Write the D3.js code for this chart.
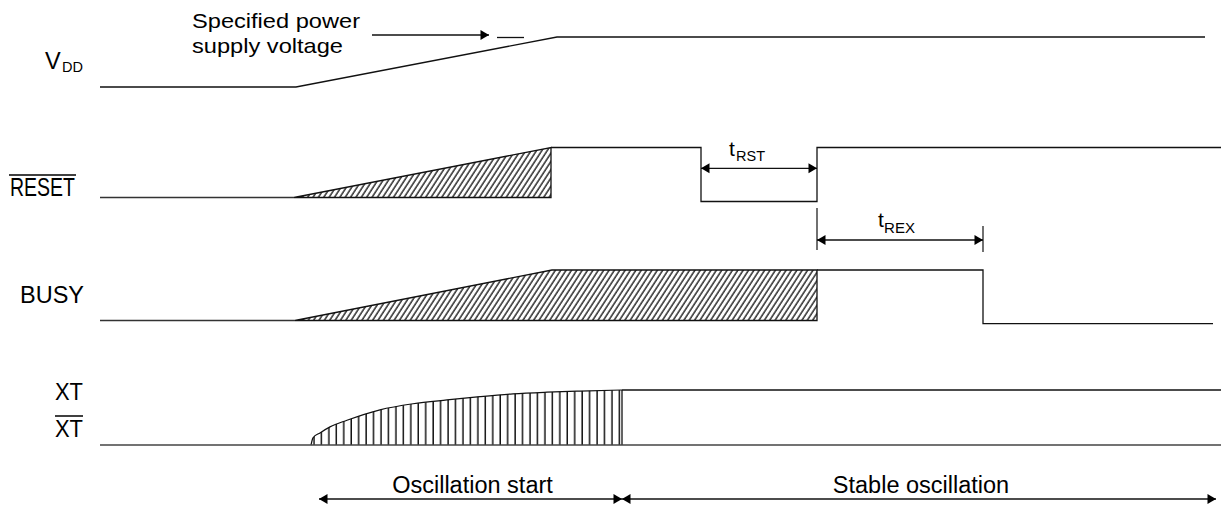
<!DOCTYPE html>
<html><head><meta charset="utf-8">
<script src="https://cdn.jsdelivr.net/npm/d3@7"></script>
<style>body{margin:0;background:#fff} svg{display:block}</style>
</head><body><svg id="c" width="1221" height="508"></svg>
<script>
// ---------------- DATA (time units, logic levels 0 = low, 1 = high) ----------------
const signalNames = ["VDD", "RESET", "BUSY", "XT"];
const vddWave    = [[0,0],[19.6,0],[45.7,1],[110.5,1]];
const vddDash    = [[39.7,0.99],[42.4,0.99]];
const specArrow  = [[27.2,1.04],[38.9,1.04]];
const resetLow   = [[0,0],[19.4,0]];
const resetHatch = [[19.4,0],[45.1,1],[45.1,0]];
const resetWave  = [[45.1,1],[60.1,1],[60.1,-0.08],[71.7,-0.08],[71.7,1],[112.1,1]];
const busyLow    = [[0,0],[19.5,0]];
const busyHatch  = [[19.5,0],[45.2,1],[71.7,1],[71.7,0]];
const busyWave   = [[71.7,1],[88.3,1],[88.3,-0.06],[111.3,-0.06]];
const xtBase     = [[0,0],[112.1,0]];
const xtEnvelope = [[21.1,0],[21.3,0.13],[22.0,0.22],[23.0,0.33],[24.7,0.45],[28.0,0.64],[31.3,0.75],[34.7,0.82],[38.0,0.88],[41.3,0.93],[44.7,0.96],[48.0,0.98],[52.2,1]];
const xtTop      = [[52.2,1],[112.1,1]];
const timingRST  = [60.1, 71.7];
const timingREX  = [71.7, 88.3];
const phaseLabels = ["Oscillation start", "Stable oscillation"];
const phaseSpans  = [[21.9, 52.2], [52.2, 111.6]];
const annotation  = ["Specified power", "supply voltage"];

// ---------------- LAYOUT ----------------
const svg = d3.select("#c");
const x = d3.scaleLinear().domain([0, 112.1]).range([100, 1221]);
const rowPx = {VDD:[87,37], RESET:[197.5,147.5], BUSY:[320.5,270], XT:[445,390]};
const y = {};
signalNames.forEach(n => y[n] = d3.scaleLinear().domain([0,1]).range(rowPx[n]));
const FONT = "'Liberation Sans', Arial, Helvetica, sans-serif";
const INK = "#111";

const defs = svg.append("defs");
defs.append("pattern").attr("id","diag").attr("patternUnits","userSpaceOnUse")
  .attr("width",4.5).attr("height",10).attr("patternTransform","rotate(33)")
  .append("line").attr("x1",1).attr("y1",-2).attr("x2",1).attr("y2",12)
  .attr("stroke","#3a3a3a").attr("stroke-width",1.6);
defs.append("pattern").attr("id","vert").attr("patternUnits","userSpaceOnUse")
  .attr("x", x(21.1)).attr("width",7.45).attr("height",10)
  .append("line").attr("x1",3).attr("y1",-2).attr("x2",3).attr("y2",12)
  .attr("stroke","#111").attr("stroke-width",1.5);

const lineFor = n => d3.line().x(d => x(d[0])).y(d => y[n](d[1]));
function wave(data, n, w, col) {
  svg.append("path").attr("d", lineFor(n)(data)).attr("fill","none")
    .attr("stroke", col || INK).attr("stroke-width", w || 1.3);
}
function hatch(data, n) {
  svg.append("path").attr("d", lineFor(n)(data) + "Z").attr("fill","url(#diag)")
    .attr("stroke",INK).attr("stroke-width",1.3);
}
function head(px, py, dir) { // dir: 1 points right, -1 points left
  const L = 8.5, H = 5;
  svg.append("path").attr("d", `M${px},${py}L${px - dir*L},${py - H}L${px - dir*L},${py + H}Z`).attr("fill","#000");
}
function dimArrow(x0, x1, py, headLeft, headRight) {
  svg.append("line").attr("x1",x0).attr("x2",x1).attr("y1",py).attr("y2",py)
    .attr("stroke",INK).attr("stroke-width",1.3);
  if (headLeft) head(x0, py, -1);
  if (headRight) head(x1, py, 1);
}

// VDD
wave(vddWave, "VDD");
wave(vddDash, "VDD");
dimArrow(x(specArrow[0][0]), x(specArrow[1][0]), y.VDD(specArrow[0][1]), false, true);

// RESET
hatch(resetHatch, "RESET");
wave(resetLow, "RESET", 1.5, "#333");
wave(resetWave, "RESET");

// BUSY
hatch(busyHatch, "BUSY");
wave(busyLow, "BUSY", 1.5, "#333");
wave(busyWave, "BUSY");

// XT
const env = d3.area().x(d => x(d[0])).y0(y.XT(0)).y1(d => y.XT(d[1])).curve(d3.curveMonotoneX);
svg.append("path").attr("d", env(xtEnvelope)).attr("fill","url(#vert)").attr("stroke","none");
svg.append("path").attr("d", d3.line().x(d => x(d[0])).y(d => y.XT(d[1])).curve(d3.curveMonotoneX)(xtEnvelope))
  .attr("fill","none").attr("stroke",INK).attr("stroke-width",1.2);
svg.append("line").attr("x1", x(52.2)).attr("x2", x(52.2)).attr("y1", y.XT(0)).attr("y2", y.XT(1))
  .attr("stroke",INK).attr("stroke-width",1.3);
wave(xtBase, "XT", 1.7, "#444");
wave(xtTop, "XT");

// timing dimensions
const rstY = 168.3;
dimArrow(x(timingRST[0]), x(timingRST[1]), rstY, true, true);
svg.append("line").attr("x1", x(timingREX[0])).attr("x2", x(timingREX[0])).attr("y1",208).attr("y2",250).attr("stroke",INK).attr("stroke-width",1.2);
svg.append("line").attr("x1", x(timingREX[1])).attr("x2", x(timingREX[1])).attr("y1",226).attr("y2",252).attr("stroke",INK).attr("stroke-width",1.2);
dimArrow(x(timingREX[0]), x(timingREX[1]), 240, true, true);

// phase arrows
const phaseY = 499;
phaseSpans.forEach(s => dimArrow(x(s[0]), x(s[1]), phaseY, true, true));

// ---------------- TEXT ----------------
function txt(s, px, py, size, len, family, anchor) {
  const t = svg.append("text").attr("x",px).attr("y",py).attr("font-size",size)
    .attr("font-family", family || FONT).attr("fill","#000").text(s);
  if (len) t.attr("textLength",len).attr("lengthAdjust","spacingAndGlyphs");
  if (anchor) t.attr("text-anchor", anchor);
  return t;
}
txt(annotation[0], 192, 28, 21, 168);
txt(annotation[1], 192, 52.5, 21, 151);
phaseLabels.forEach((l, i) => {
  const cx = (x(phaseSpans[i][0]) + x(phaseSpans[i][1])) / 2;
  txt(l, cx + 2, 493, 23.5, null, null, "middle");
});

// signal labels
txt("V", 45, 69, 23.5);
txt("DD", 62, 72, 14, 21);
txt(signalNames[1], 10, 196, 25, 65, "'Liberation Sans Narrow', " + FONT);
svg.append("line").attr("x1",9).attr("x2",76).attr("y1",175).attr("y2",175).attr("stroke","#000").attr("stroke-width",1.5);
txt(signalNames[2], 20, 303, 23.5, 64);
txt(signalNames[3], 55, 400, 23.5, 28);
txt(signalNames[3], 55, 437, 23.5, 28);
svg.append("line").attr("x1",55).attr("x2",83).attr("y1",416).attr("y2",416).attr("stroke","#000").attr("stroke-width",1.5);

// timing labels
txt("t", 729, 156, 21);
txt("RST", 736, 161, 14.5, 29);
txt("t", 878, 227, 21);
txt("REX", 884, 233, 14.5, 31);
</script></body></html>
